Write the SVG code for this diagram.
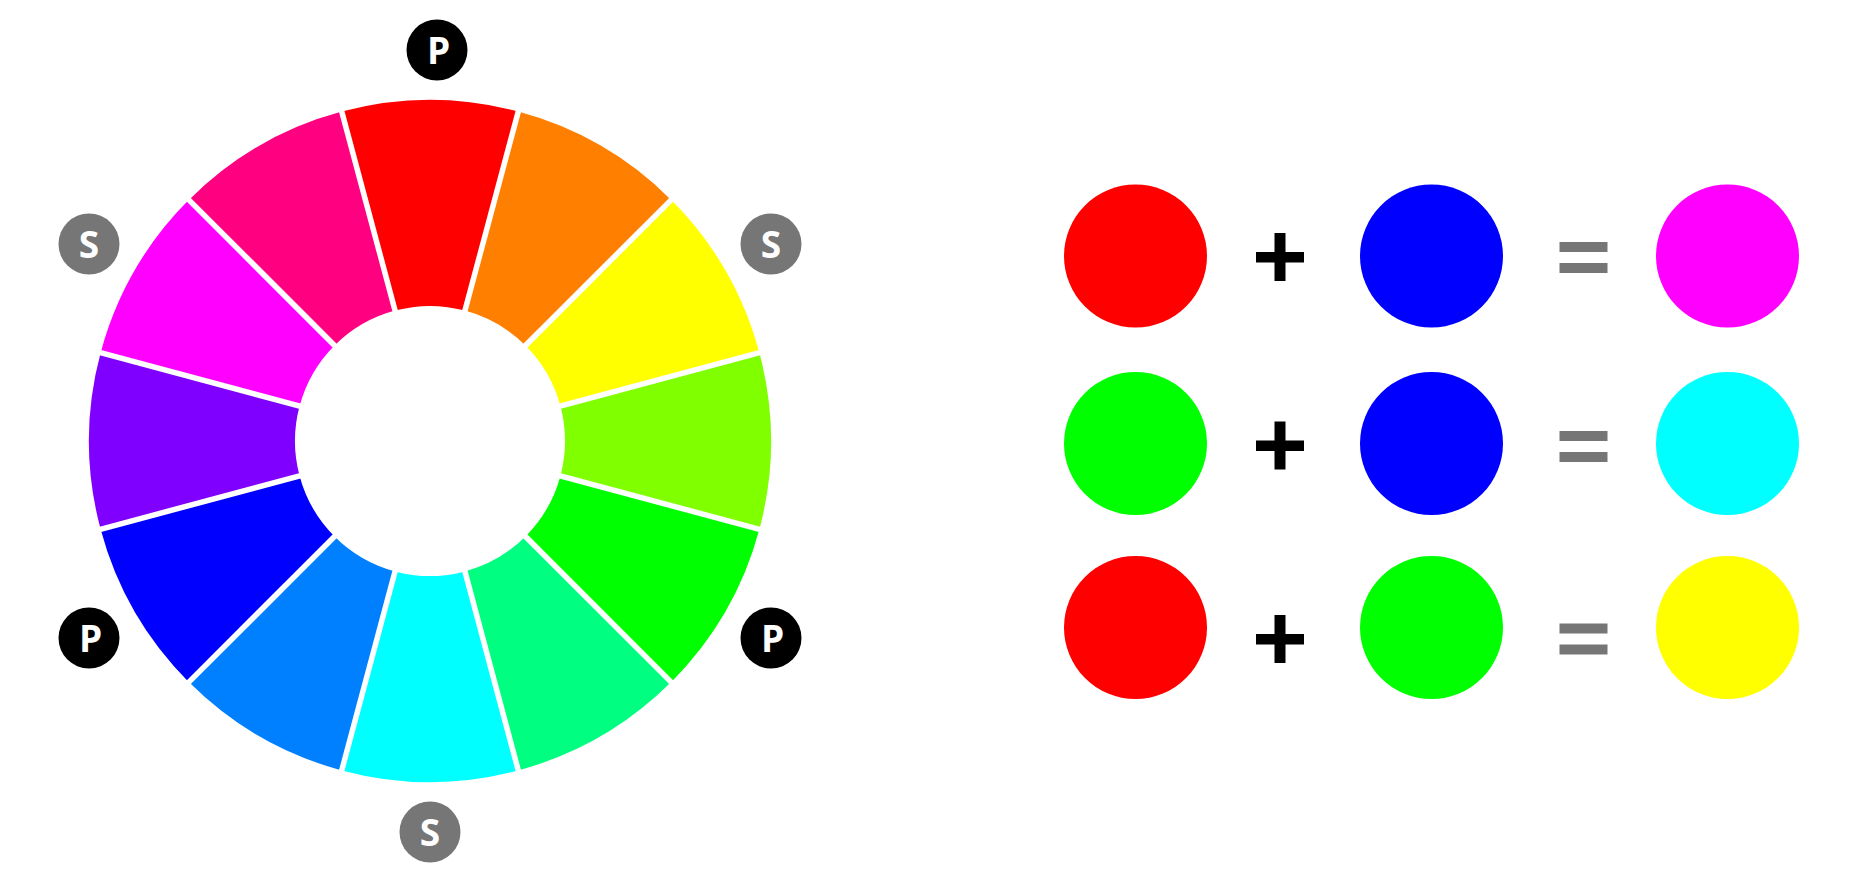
<svg xmlns="http://www.w3.org/2000/svg" xmlns:xlink="http://www.w3.org/1999/xlink" width="1875" height="883" viewBox="0 0 1875 883">
<style>
.lbl{font-family:"Open Sans","Liberation Sans",sans-serif;font-weight:700;font-size:37px;fill:#fff;text-anchor:middle}
.p{fill:#000}
.s{fill:#767676}
.gap{stroke:#fff;stroke-width:5.5;fill:none}
.plus{fill:#000}
.eq{fill:#767676}
</style>
<defs>
<path id="sector" d="M 341.74 111.62 A 341 341 0 0 1 518.26 111.62 L 464.94 310.60 A 135 135 0 0 0 395.06 310.60 Z"/>
</defs>
<rect width="1875" height="883" fill="#fff"/>
<g id="wheel">
<g id="seg-red"><use xlink:href="#sector" href="#sector" fill="#FF0000"/></g>
<g id="seg-orange"><use xlink:href="#sector" href="#sector" fill="#FF8000" transform="rotate(30 430 441)"/></g>
<g id="seg-yellow"><use xlink:href="#sector" href="#sector" fill="#FFFF00" transform="rotate(60 430 441)"/></g>
<g id="seg-chartreuse"><use xlink:href="#sector" href="#sector" fill="#80FF00" transform="rotate(90 430 441)"/></g>
<g id="seg-green"><use xlink:href="#sector" href="#sector" fill="#00FF00" transform="rotate(120 430 441)"/></g>
<g id="seg-spring"><use xlink:href="#sector" href="#sector" fill="#00FF80" transform="rotate(150 430 441)"/></g>
<g id="seg-cyan"><use xlink:href="#sector" href="#sector" fill="#00FFFF" transform="rotate(180 430 441)"/></g>
<g id="seg-azure"><use xlink:href="#sector" href="#sector" fill="#0080FF" transform="rotate(210 430 441)"/></g>
<g id="seg-blue"><use xlink:href="#sector" href="#sector" fill="#0000FF" transform="rotate(240 430 441)"/></g>
<g id="seg-violet"><use xlink:href="#sector" href="#sector" fill="#8000FF" transform="rotate(270 430 441)"/></g>
<g id="seg-magenta"><use xlink:href="#sector" href="#sector" fill="#FF00FF" transform="rotate(300 430 441)"/></g>
<g id="seg-rose"><use xlink:href="#sector" href="#sector" fill="#FF0080" transform="rotate(330 430 441)"/></g>
</g>
<g id="gaps">
<line class="gap" x1="519.55" y1="106.79" x2="340.45" y2="775.21"/>
<line class="gap" x1="674.66" y1="196.34" x2="185.34" y2="685.66"/>
<line class="gap" x1="764.21" y1="351.45" x2="95.79" y2="530.55"/>
<line class="gap" x1="764.21" y1="530.55" x2="95.79" y2="351.45"/>
<line class="gap" x1="674.66" y1="685.66" x2="185.34" y2="196.34"/>
<line class="gap" x1="519.55" y1="775.21" x2="340.45" y2="106.79"/>
</g>
<g id="label-p-top"><circle class="p" cx="437" cy="50" r="30.5"/><text class="lbl" x="438.5" y="63.5">P</text></g>
<g id="label-s-right"><circle class="s" cx="771" cy="244" r="30.5"/><text class="lbl" x="771" y="257.5">S</text></g>
<g id="label-p-right"><circle class="p" cx="771" cy="638" r="30.5"/><text class="lbl" x="772.5" y="651.5">P</text></g>
<g id="label-s-bottom"><circle class="s" cx="430" cy="832" r="30.5"/><text class="lbl" x="430" y="845.5">S</text></g>
<g id="label-p-left"><circle class="p" cx="89" cy="638" r="30.5"/><text class="lbl" x="90.5" y="651.5">P</text></g>
<g id="label-s-left"><circle class="s" cx="89" cy="244" r="30.5"/><text class="lbl" x="89" y="257.5">S</text></g>

<g id="row1">
<g id="r1-red"><circle cx="1135.5" cy="256" r="71.5" fill="#FF0000"/></g>
<g id="r1-plus"><rect class="plus" x="1274.5" y="233" width="11" height="48"/><rect class="plus" x="1256" y="252" width="48" height="10.5"/></g>
<g id="r1-blue"><circle cx="1431.5" cy="256" r="71.5" fill="#0000FF"/></g>
<g id="r1-eq"><rect class="eq" x="1559.5" y="242" width="48" height="10"/><rect class="eq" x="1559.5" y="263" width="48" height="10"/></g>
<g id="r1-magenta"><circle cx="1727.5" cy="256" r="71.5" fill="#FF00FF"/></g>
</g>
<g id="row2">
<g id="r2-green"><circle cx="1135.5" cy="443.5" r="71.5" fill="#00FF00"/></g>
<g id="r2-plus"><rect class="plus" x="1274.5" y="421.5" width="11" height="48"/><rect class="plus" x="1256" y="440.5" width="48" height="10.5"/></g>
<g id="r2-blue"><circle cx="1431.5" cy="443.5" r="71.5" fill="#0000FF"/></g>
<g id="r2-eq"><rect class="eq" x="1559.5" y="431" width="48" height="10"/><rect class="eq" x="1559.5" y="452" width="48" height="10"/></g>
<g id="r2-cyan"><circle cx="1727.5" cy="443.5" r="71.5" fill="#00FFFF"/></g>
</g>
<g id="row3">
<g id="r3-red"><circle cx="1135.5" cy="627.5" r="71.5" fill="#FF0000"/></g>
<g id="r3-plus"><rect class="plus" x="1274.5" y="615" width="11" height="48"/><rect class="plus" x="1256" y="634" width="48" height="10.5"/></g>
<g id="r3-green"><circle cx="1431.5" cy="627.5" r="71.5" fill="#00FF00"/></g>
<g id="r3-eq"><rect class="eq" x="1559.5" y="623.5" width="48" height="10"/><rect class="eq" x="1559.5" y="644.5" width="48" height="10"/></g>
<g id="r3-yellow"><circle cx="1727.5" cy="627.5" r="71.5" fill="#FFFF00"/></g>
</g>
</svg>
